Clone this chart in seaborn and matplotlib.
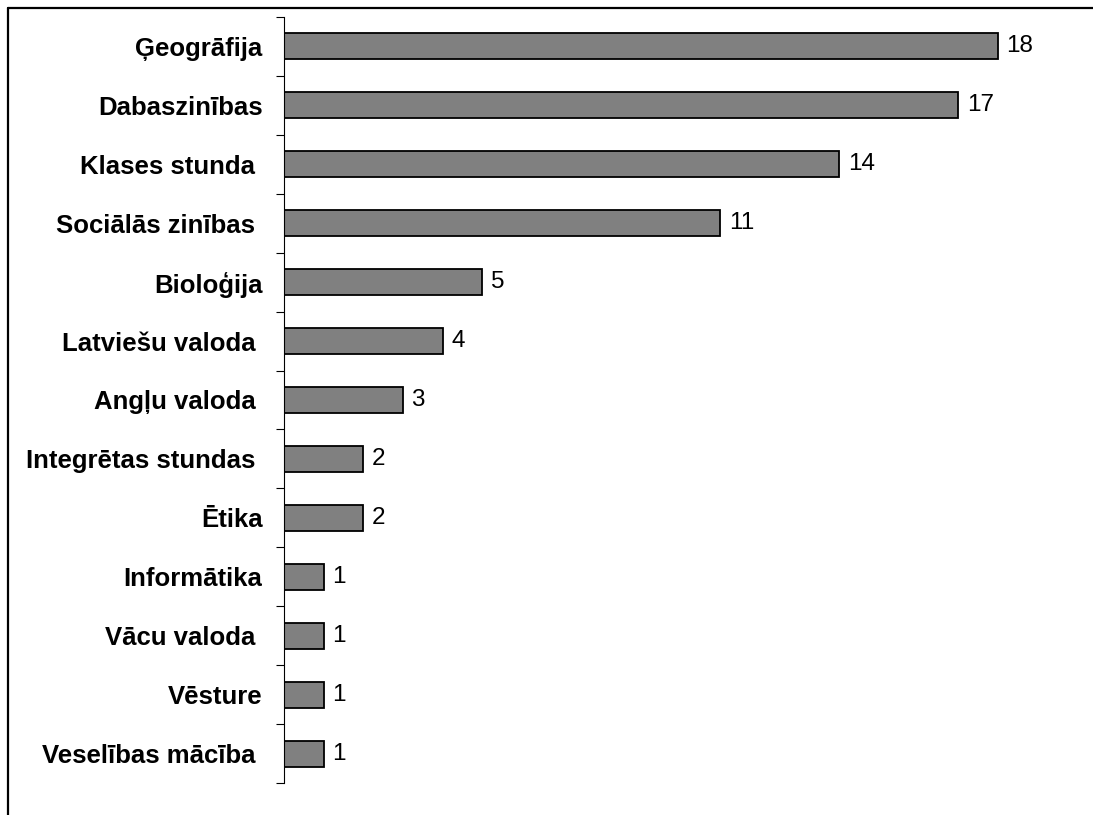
import matplotlib
matplotlib.use("Agg")
import matplotlib.pyplot as plt
from matplotlib.lines import Line2D
import seaborn as sns

SUBJECTS = [
    "Ģeogrāfija",
    "Dabaszinības",
    "Klases stunda ",
    "Sociālās zinības ",
    "Bioloģija",
    "Latviešu valoda ",
    "Angļu valoda ",
    "Integrētas stundas ",
    "Ētika",
    "Informātika",
    "Vācu valoda ",
    "Vēsture",
    "Veselības mācība ",
]
COUNTS = [18, 17, 14, 11, 5, 4, 3, 2, 2, 1, 1, 1, 1]

W, H = 1093, 815

sns.set_style("white")
plt.rcParams["font.family"] = ["Liberation Sans", "DejaVu Sans"]

fig = plt.figure(figsize=(W / 100, H / 100), dpi=100)
ax = fig.add_axes([284 / W, 1 - 783 / H, (1060 - 284) / W, (783 - 17) / H])

sns.barplot(
    x=COUNTS,
    y=SUBJECTS,
    orient="h",
    color="#808080",
    saturation=1,
    edgecolor="black",
    linewidth=1.3,
    width=0.44,
    ax=ax,
)

ax.set_xlim(0, 776 / 39.67)
ax.set_ylim(len(SUBJECTS) - 0.5, -0.5)
ax.set_xlabel("")
ax.set_ylabel("")

for side in ["top", "right", "bottom"]:
    ax.spines[side].set_visible(False)
ax.spines["left"].set_color("black")
ax.spines["left"].set_linewidth(0.8)
ax.xaxis.set_visible(False)

# labels at category centres, tick marks at the boundaries
ax.tick_params(axis="y", which="major", length=0, pad=15.5)
ax.set_yticks(
    [i - 0.5 for i in range(len(SUBJECTS) + 1)], minor=True
)
ax.tick_params(axis="y", which="minor", length=6, width=0.8,
               direction="out", color="black", left=True)
for lab in ax.get_yticklabels():
    lab.set_fontweight("bold")
    lab.set_fontsize(18.5)
    lab.set_color("black")

ax.bar_label(ax.containers[0], padding=6, fontsize=17.5, color="black")

# outer frame (only top and left edges are visible in the original)
fig.add_artist(Line2D([8 / W, 8 / W], [0, 1 - 8 / H], color="black",
                      linewidth=1.6, transform=fig.transFigure))
fig.add_artist(Line2D([8 / W, 1], [1 - 8 / H, 1 - 8 / H], color="black",
                      linewidth=1.6, transform=fig.transFigure))

fig.savefig("out.png", dpi=100, facecolor="white")
